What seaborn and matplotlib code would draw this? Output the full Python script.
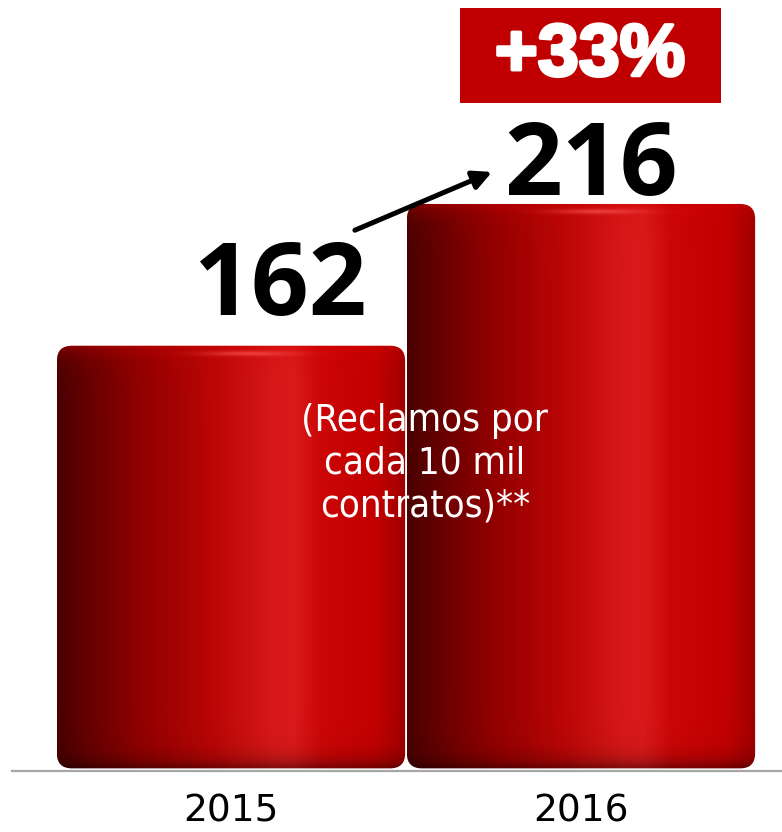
import numpy as np
import pandas as pd
import matplotlib
matplotlib.use('Agg')
import matplotlib.pyplot as plt
import seaborn as sns
from matplotlib.colors import LinearSegmentedColormap, to_rgb
from matplotlib.patches import FancyBboxPatch, Rectangle
import matplotlib.patheffects as pe

# Data
years = ['2015', '2016']
reclamos = [162, 216]
change_label = '+33%'
note = '(Reclamos por\ncada 10 mil\ncontratos)**'

df = pd.DataFrame({'Year': years, 'Reclamos': reclamos})

sns.set_style('white')
plt.rcParams['font.family'] = ['DejaVu Sans']

fig = plt.figure(figsize=(7.82, 8.32), dpi=100)
ax = fig.add_axes([12 / 782, 61 / 832, 770 / 782, 771 / 832])

sns.barplot(data=df, x='Year', y='Reclamos', color='#c00000', width=0.995, ax=ax)
ax.set_xlim(-0.6257, 1.5743)
ax.set_ylim(0, 293.7)

# Horizontal shading of the cylinders
stops = [(0.0, '#4a0000'), (0.08, '#640000'), (0.25, '#940000'), (0.45, '#bb0606'),
         (0.62, '#d81818'), (0.68, '#da1a1a'), (0.76, '#cc0606'), (0.92, '#c20000'),
         (1.0, '#a00000')]
cmap = LinearSegmentedColormap.from_list('cyl', stops)

for patch in list(ax.patches):
    x0, y0 = patch.get_x(), patch.get_y()
    w, h = patch.get_width(), patch.get_height()
    patch.set_visible(False)

    p0 = ax.transData.transform((x0, y0))
    p1 = ax.transData.transform((x0 + w, y0 + h))
    wpx, hpx = int(p1[0] - p0[0]), int(p1[1] - p0[1])

    xs = np.linspace(0, 1, wpx)
    img = cmap(xs)[:, :3][None, :, :].repeat(hpx, axis=0)  # row 0 = top
    rows = np.arange(hpx)[:, None, None]
    # brighter top rim
    top = np.exp(-rows / 10.0)
    img = img * (1 - 0.45 * top) + np.array(to_rgb('#d00000')) * 0.45 * top
    # highlight streak near the top
    hl = np.exp(-((xs - 0.55) / 0.13) ** 2)[None, :, None] * np.exp(-((rows - 8) / 2.5) ** 2)
    img = img * (1 - 0.6 * hl) + np.array([1.0, 0.35, 0.35]) * 0.6 * hl
    # darker bottom rim
    bot = np.exp(-(hpx - 1 - rows) / 10.0)
    img = img * (1 - 0.55 * bot)
    img = np.clip(img, 0, 1)

    px_per_x = wpx / w
    px_per_y = hpx / h
    clip = FancyBboxPatch((x0, y0 + 1.0), w, h - 1.0,
                          boxstyle='round,pad=0,rounding_size=%f' % (15 / px_per_x),
                          mutation_aspect=px_per_x / px_per_y,
                          facecolor='none', edgecolor='none', transform=ax.transData)
    ax.add_patch(clip)
    im = ax.imshow(img, extent=(x0, x0 + w, y0, y0 + h), aspect='auto',
                   interpolation='bilinear', zorder=2)
    im.set_clip_path(clip)

ax.set_xlim(-0.6257, 1.5743)
ax.set_ylim(0, 293.7)

# Value labels
label_dx = [0.14, 0.029]
label_dy = [11.7, 3.4]
for i, v in enumerate(reclamos):
    ax.text(i + label_dx[i], v + label_dy[i], str(v), ha='center', va='baseline',
            fontsize=73, fontweight='bold', family=['Open Sans', 'DejaVu Sans'],
            color='black', zorder=5)

# Arrow between the labels
ax.annotate('', xy=(0.746, 228.2), xytext=(0.354, 206),
            arrowprops=dict(arrowstyle='-|>', lw=3.6, color='black',
                            mutation_scale=28, shrinkA=0, shrinkB=0), zorder=5)

# Note text
ax.text(0.554, 117.0, note, ha='center', va='center', color='white', fontsize=27.5,
        fontstretch='condensed', linespacing=1.25, zorder=5)

# Growth box
fig.patches.append(Rectangle((460 / 782, 1 - 103 / 832), 261 / 782, 95 / 832,
                             transform=fig.transFigure, facecolor='#c00000',
                             edgecolor='none'))
fig.text(590 / 782, 1 - 56 / 832, change_label, ha='center', va='center', color='white',
         fontsize=53, fontweight='bold', family=['Liberation Sans', 'DejaVu Sans'],
         path_effects=[pe.withStroke(linewidth=2.5, foreground='white')])

# Axes styling
ax.set_xlabel('')
ax.set_ylabel('')
ax.set_yticks([])
ax.tick_params(axis='x', length=0, pad=16, labelsize=27, labelcolor='black')
for s in ['top', 'left', 'right']:
    ax.spines[s].set_visible(False)
ax.spines['bottom'].set_color('#a6a6a6')
ax.spines['bottom'].set_linewidth(1.6)
ax.set_facecolor('white')

fig.savefig('out.png', dpi=100, facecolor='white')
